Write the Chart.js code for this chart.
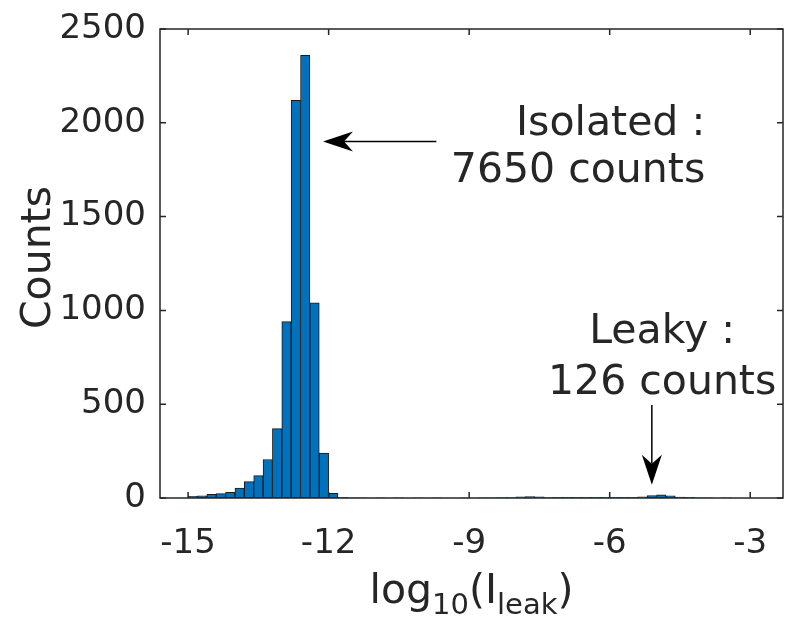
<!DOCTYPE html>
<html>
<head>
<meta charset="utf-8">
<script src="https://cdn.jsdelivr.net/npm/chart.js@4.4.1/dist/chart.umd.min.js"></script>
<style>
html, body { margin: 0; padding: 0; background: #fff; }
#wrap { width: 787px; height: 626px; }
</style>
</head>
<body>
<div id="wrap"><canvas id="histChart"></canvas></div>
<script>
// histogram of log10 leakage current, bins of 0.2 starting at -15
const binStart = -15;
const binWidth = 0.2;
const counts = [
    9, 12, 19, 23, 30, 53, 87, 119, 205, 370,
    940, 2120, 2360, 1040, 240, 25, 3, 1, 1, 0,
    1, 0, 1, 0, 1, 0, 1, 0, 0, 1,
    0, 1, 1, 2, 2, 6, 7, 6, 2, 4,
    4, 3, 3, 4, 3, 4, 3, 3, 6, 13,
    17, 11, 5, 3, 1, 1, 0, 1, 0, 0
];
const xTicks = [-15, -12, -9, -6, -3];
const yTicks = [0, 500, 1000, 1500, 2000, 2500];

// annotation texts and arrows (in data units)
const isolatedText = ["Isolated :", "7650 counts"];
const leakyText = ["Leaky :", "126 counts"];
const isolatedArrow = { x0: -9.7, y0: 1900, x1: -12.12, y1: 1900 };
const leakyArrow = { x0: -5.1, y0: 496, x1: -5.1, y1: 70 };

const ink = '#262626';
const fontFamily = '"DejaVu Sans", Verdana, sans-serif';

const barData = counts.map((c, i) => ({ x: binStart + (i + 0.5) * binWidth, y: c }));

function drawArrow(ctx, x0, y0, x1, y1) {
    const ang = Math.atan2(y1 - y0, x1 - x0);
    const len = 30, half = 10, notch = 9;
    const bx = x1 - Math.cos(ang) * (len - notch);
    const by = y1 - Math.sin(ang) * (len - notch);
    ctx.beginPath();
    ctx.moveTo(x0, y0);
    ctx.lineTo(bx, by);
    ctx.lineWidth = 1.5;
    ctx.stroke();
    const cx = x1 - Math.cos(ang) * len, cy = y1 - Math.sin(ang) * len;
    const nx = -Math.sin(ang), ny = Math.cos(ang);
    ctx.beginPath();
    ctx.moveTo(x1, y1);
    ctx.lineTo(cx + nx * half, cy + ny * half);
    ctx.lineTo(bx, by);
    ctx.lineTo(cx - nx * half, cy - ny * half);
    ctx.closePath();
    ctx.fill();
}

const frame = {
    id: 'frame',
    afterDatasetsDraw(chart) {
        const { ctx, chartArea: a, scales: { x, y } } = chart;
        ctx.save();
        ctx.strokeStyle = ink;
        ctx.lineWidth = 1.5;
        ctx.strokeRect(a.left, a.top, a.right - a.left, a.bottom - a.top);
        ctx.beginPath();
        xTicks.forEach(v => {
            const px = x.getPixelForValue(v);
            ctx.moveTo(px, a.bottom); ctx.lineTo(px, a.bottom - 6);
            ctx.moveTo(px, a.top); ctx.lineTo(px, a.top + 6);
        });
        yTicks.forEach(v => {
            const py = y.getPixelForValue(v);
            ctx.moveTo(a.left, py); ctx.lineTo(a.left + 6, py);
            ctx.moveTo(a.right, py); ctx.lineTo(a.right - 6, py);
        });
        ctx.stroke();

        // axis titles
        ctx.fillStyle = ink;
        ctx.font = '41px ' + fontFamily;
        ctx.textAlign = 'center';
        ctx.textBaseline = 'alphabetic';
        ctx.save();
        ctx.translate(50, (a.top + a.bottom) / 2 - 6);
        ctx.rotate(-Math.PI / 2);
        ctx.fillText('Counts', 0, 0);
        ctx.restore();

        const parts = [
            { t: 'log', size: 41, dy: 0 },
            { t: '10', size: 29, dy: 11 },
            { t: '(I', size: 41, dy: 0 },
            { t: 'leak', size: 29, dy: 11 },
            { t: ')', size: 41, dy: 0 }
        ];
        let total = 0;
        parts.forEach(p => { ctx.font = p.size + 'px ' + fontFamily; p.w = ctx.measureText(p.t).width; total += p.w; });
        let cx = (a.left + a.right) / 2 - total / 2;
        ctx.textAlign = 'left';
        parts.forEach(p => {
            ctx.font = p.size + 'px ' + fontFamily;
            ctx.fillText(p.t, cx, 603 + p.dy);
            cx += p.w;
        });

        // annotations
        ctx.font = '41px ' + fontFamily;
        ctx.textAlign = 'right';
        ctx.fillText(isolatedText[0], x.getPixelForValue(-3.96), y.getPixelForValue(1935));
        ctx.fillText(isolatedText[1], x.getPixelForValue(-3.96), y.getPixelForValue(1684));
        ctx.textAlign = 'center';
        ctx.fillText(leakyText[0], x.getPixelForValue(-4.88), y.getPixelForValue(826));
        ctx.fillText(leakyText[1], x.getPixelForValue(-4.88), y.getPixelForValue(554));

        ctx.strokeStyle = '#000';
        ctx.fillStyle = '#000';
        [isolatedArrow, leakyArrow].forEach(ar => {
            drawArrow(ctx, x.getPixelForValue(ar.x0), y.getPixelForValue(ar.y0),
                x.getPixelForValue(ar.x1), y.getPixelForValue(ar.y1));
        });
        ctx.restore();
    }
};

new Chart(document.getElementById('histChart'), {
    type: 'bar',
    data: {
        datasets: [{
            data: barData,
            backgroundColor: '#0072BD',
            borderColor: '#1a1a1a',
            borderWidth: 1,
            borderSkipped: false,
            barPercentage: 1,
            categoryPercentage: 1
        }]
    },
    options: {
        responsive: true,
        maintainAspectRatio: false,
        animation: false,
        layout: { padding: { top: 29, right: 4, left: 0, bottom: 0 } },
        plugins: { legend: { display: false }, tooltip: { enabled: false } },
        scales: {
            x: {
                type: 'linear',
                offset: false,
                min: -15.6,
                max: -2.3,
                afterBuildTicks: s => { s.ticks = xTicks.map(v => ({ value: v })); },
                afterFit: s => { s.height = 128; },
                grid: { display: false, offset: false },
                border: { display: false },
                ticks: {
                    color: ink,
                    font: { family: fontFamily, size: 34 },
                    padding: 18,
                    maxRotation: 0,
                    autoSkip: false,
                    callback: v => String(v)
                }
            },
            y: {
                min: 0,
                max: 2500,
                afterBuildTicks: s => { s.ticks = yTicks.map(v => ({ value: v })); },
                afterFit: s => { s.width = 160; },
                grid: { display: false },
                border: { display: false },
                ticks: {
                    color: ink,
                    font: { family: fontFamily, size: 34 },
                    padding: 6,
                    callback: v => String(v)
                }
            }
        }
    },
    plugins: [frame]
});
</script>
</body>
</html>
